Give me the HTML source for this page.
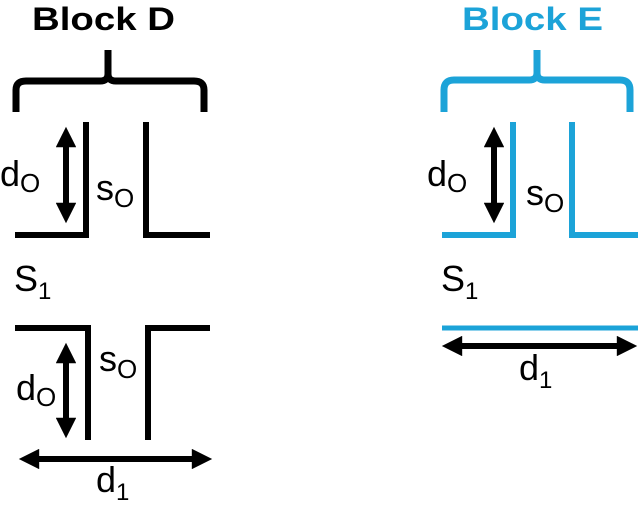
<!DOCTYPE html>
<html><head><meta charset="utf-8"><style>
html,body{margin:0;padding:0;background:#fff;}
svg text{font-family:"Liberation Sans",sans-serif;}
</style></head><body>
<svg width="640" height="502" viewBox="0 0 640 502" xmlns="http://www.w3.org/2000/svg">
<defs>
<marker id="ah" viewBox="0 0 10 10" refX="5" refY="5" markerWidth="3.8" markerHeight="3.4" orient="auto-start-reverse"><path d="M0,0 L10,5 L0,10 z" fill="#000"/></marker>
</defs>
<!-- Block D -->
<text x="32" y="30" font-size="32" font-weight="bold" fill="#000" textLength="143" lengthAdjust="spacingAndGlyphs">Block D</text>
<path d="M16,112 V90 Q16,81 26,81 H100 Q108,81 108,74 V50 M108,74 Q108,81 116,81 H194 Q204,81 204,90 V112" fill="none" stroke="#000" stroke-width="7"/>
<path d="M15,235 H86 V122 M146,122 V235 H210" fill="none" stroke="#000" stroke-width="6"/>
<line x1="66" y1="137" x2="66" y2="213" stroke="#000" stroke-width="6" marker-start="url(#ah)" marker-end="url(#ah)"/>
<text x="0" y="186" font-size="36">d<tspan font-size="26" dy="6">O</tspan></text>
<text x="96" y="200" font-size="36">s<tspan font-size="26" dy="7">O</tspan></text>
<text x="14" y="291" font-size="36">S<tspan font-size="24" dy="8">1</tspan></text>
<path d="M15,328 H88 V440 M148,440 V328 H210" fill="none" stroke="#000" stroke-width="6"/>
<line x1="66" y1="353" x2="66" y2="428" stroke="#000" stroke-width="6" marker-start="url(#ah)" marker-end="url(#ah)"/>
<text x="16" y="400" font-size="36">d<tspan font-size="26" dy="6">O</tspan></text>
<text x="99" y="371" font-size="36">s<tspan font-size="26" dy="7">O</tspan></text>
<line x1="29" y1="459" x2="202" y2="459" stroke="#000" stroke-width="6" marker-start="url(#ah)" marker-end="url(#ah)"/>
<text x="96" y="492" font-size="36">d<tspan font-size="24" dy="8">1</tspan></text>
<!-- Block E -->
<text x="462" y="30" font-size="32" font-weight="bold" fill="#1ca3d8" textLength="141" lengthAdjust="spacingAndGlyphs">Block E</text>
<path d="M444,112 V90 Q444,80 454,80 H529 Q537,80 537,73 V50 M537,73 Q537,80 545,80 H620 Q630,80 630,90 V112" fill="none" stroke="#1ca3d8" stroke-width="7"/>
<path d="M442,235 H513 V122 M572,122 V235 H638" fill="none" stroke="#1ca3d8" stroke-width="6"/>
<line x1="494" y1="137" x2="494" y2="213" stroke="#000" stroke-width="6" marker-start="url(#ah)" marker-end="url(#ah)"/>
<text x="427" y="186" font-size="36">d<tspan font-size="26" dy="6">O</tspan></text>
<text x="526" y="205" font-size="36">s<tspan font-size="26" dy="7">O</tspan></text>
<text x="441" y="291" font-size="36">S<tspan font-size="24" dy="8">1</tspan></text>
<line x1="442" y1="328" x2="638" y2="328" stroke="#1ca3d8" stroke-width="5"/>
<line x1="452" y1="346" x2="627" y2="346" stroke="#000" stroke-width="6" marker-start="url(#ah)" marker-end="url(#ah)"/>
<text x="519" y="380" font-size="36">d<tspan font-size="24" dy="8">1</tspan></text>
</svg>
</body></html>
